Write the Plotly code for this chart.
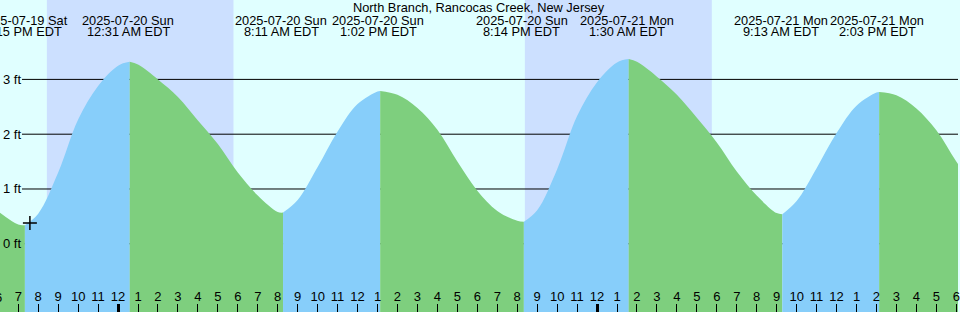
import plotly.graph_objects as go
import pandas as pd

TITLE = "North Branch, Rancocas Creek, New Jersey"

# Tide extremes (EDT) as printed on the chart
event_times = ["2025-07-19 19:15", "2025-07-20 00:31", "2025-07-20 08:11", "2025-07-20 13:02",
               "2025-07-20 20:14", "2025-07-21 01:30", "2025-07-21 09:13", "2025-07-21 14:03"]
# Turning points of the drawn curve (where the fill colour changes) and their heights in ft
turn_times = ["2025-07-19 19:20", "2025-07-20 00:35", "2025-07-20 08:16", "2025-07-20 13:08",
              "2025-07-20 20:20", "2025-07-21 01:35", "2025-07-21 09:17", "2025-07-21 14:08"]
turn_heights = [0.34, 3.32, 0.57, 2.79, 0.40, 3.37, 0.54, 2.77]

# Hourly tide heights (ft), 2025-07-19 18:00 .. 2025-07-21 19:00
hour_heights = [
    0.59, 0.35, 0.55, 1.30, 2.27, 2.88,                  # Sat 18..23
    3.25, 3.27, 3.00, 2.68, 2.25, 1.82, 1.30, 0.88,      # Sun 00..07
    0.58, 0.80, 1.40, 2.05, 2.55, 2.78, 2.72, 2.48,      # Sun 08..15
    2.08, 1.50, 0.97, 0.60, 0.42, 0.61, 1.36, 2.33,      # Sun 16..23
    2.95, 3.31, 3.32, 3.05, 2.72, 2.30, 1.85, 1.32,      # Mon 00..07
    0.88, 0.56, 0.78, 1.38, 2.02, 2.52, 2.76, 2.71,      # Mon 08..15
    2.47, 2.07, 1.50, 0.98,                              # Mon 16..19
]
hour_times = pd.date_range("2025-07-19 18:00", periods=len(hour_heights), freq="h")

sunset_times = ["2025-07-19 20:26", "2025-07-20 20:23"]
sunrise_times = ["2025-07-20 05:47", "2025-07-21 05:45"]
midnights = ["2025-07-20 00:00", "2025-07-21 00:00"]
first_hour_label = ("2025-07-19 18:00", "6")   # hour tick just left of the view
now_time = ["2025-07-19 19:35"]
now_height = [0.38]
y_ticks = [0, 1, 2, 3]
y_ticktext = ["0 ft", "1 ft", "2 ft", "3 ft"]

X_RANGE = ["2025-07-19 18:05:06", "2025-07-21 18:05:06"]
Y_RANGE = [-1.245, 4.449]
BASE = -2.0

RISE = "#87CEFA"
FALL = "#7ECF7E"
DAY = "#E0FFFF"
NIGHT = "#CCE0FF"
FONT = "Liberation Sans"
LABEL_SIZE = 12.8

# merge samples
pts = [(pd.Timestamp(t), h, False) for t, h in zip(hour_times, hour_heights)]
pts += [(pd.Timestamp(t), h, True) for t, h in zip(turn_times, turn_heights)]
pts.sort(key=lambda p: p[0])

segments = []
cur = []
for p in pts:
    cur.append(p)
    if p[2]:
        segments.append(cur)
        cur = [p]
if len(cur) > 1:
    segments.append(cur)

fig = go.Figure()
for seg in segments:
    xs = [p[0] for p in seg]
    ys = [p[1] for p in seg]
    color = RISE if ys[-1] > ys[0] else FALL
    fig.add_trace(go.Scatter(x=[xs[0], xs[-1]], y=[BASE, BASE], mode="lines",
                             line=dict(width=0), hoverinfo="skip", showlegend=False))
    fig.add_trace(go.Scatter(x=xs, y=ys, mode="lines", line=dict(width=0, shape="spline"),
                             fill="tonexty", fillcolor=color, hoverinfo="skip", showlegend=False))

fig.add_trace(go.Scatter(x=now_time, y=now_height, mode="markers",
                         marker=dict(symbol="cross-thin", size=10, line=dict(width=1.5, color="black")),
                         showlegend=False, hoverinfo="skip"))
fig.add_trace(go.Scatter(x=midnights, y=[BASE, BASE], xaxis="x2", mode="markers",
                         marker=dict(opacity=0), showlegend=False, hoverinfo="skip"))

shapes = []
for s, r in zip(sunset_times, sunrise_times):
    shapes.append(dict(type="rect", xref="x", yref="paper", x0=s, x1=r, y0=0, y1=1,
                       fillcolor=NIGHT, line=dict(width=0), layer="below"))
for v in y_ticks:
    shapes.append(dict(type="line", xref="paper", yref="y", x0=22 / 960, x1=1, y0=v, y1=v,
                       line=dict(color="black", width=1), layer="below"))

annotations = []
for t in event_times:
    ts = pd.Timestamp(t)
    l1 = ts.strftime("%Y-%m-%d %a")
    l2 = ts.strftime("%I:%M %p").lstrip("0") + " EDT"
    annotations.append(dict(x=ts, y=1 - 20 / 312, xref="x", yref="paper", text=l1,
                            showarrow=False, xanchor="center", yanchor="middle",
                            font=dict(family=FONT, size=LABEL_SIZE, color="black")))
    annotations.append(dict(x=ts, y=1 - 32 / 312, xref="x", yref="paper", text=l2,
                            showarrow=False, xanchor="center", yanchor="middle",
                            font=dict(family=FONT, size=LABEL_SIZE, color="black")))
annotations.append(dict(x=0.5, y=1 - 7.8 / 312, xref="paper", yref="paper", text=TITLE,
                        showarrow=False, xanchor="center", yanchor="middle",
                        font=dict(family=FONT, size=LABEL_SIZE, color="black")))

# y-axis labels drawn inside the plot at the left edge
for v, txt in zip(y_ticks, y_ticktext):
    annotations.append(dict(x=1 / 960, y=v, xref="paper", yref="y", text=txt,
                            showarrow=False, xanchor="left", yanchor="middle",
                            font=dict(family=FONT, size=13, color="black")))

# hour label of the tick just outside the left edge (partly visible)
x0, x1 = pd.Timestamp(X_RANGE[0]), pd.Timestamp(X_RANGE[1])
frac = (pd.Timestamp(first_hour_label[0]) - x0) / (x1 - x0)
annotations.append(dict(x=frac, y=15 / 312, xref="paper", yref="paper", text=first_hour_label[1],
                        showarrow=False, xanchor="center", yanchor="middle",
                        font=dict(family=FONT, size=13, color="black")))

fig.update_layout(
    width=960, height=312, margin=dict(l=0, r=0, t=0, b=0),
    plot_bgcolor=DAY, paper_bgcolor=DAY,
    font=dict(family=FONT, size=13, color="black"),
    shapes=shapes, annotations=annotations, showlegend=False,
    xaxis=dict(type="date", range=X_RANGE, tickformat="%-I", dtick=3600000,
               tick0="2025-07-20 00:00", ticks="inside", ticklen=8, tickwidth=1,
               tickcolor="black", ticklabelposition="inside", ticklabeloverflow="allow",
               showgrid=False, zeroline=False, showline=False,
               tickfont=dict(family=FONT, size=13, color="black")),
    xaxis2=dict(type="date", range=X_RANGE, overlaying="x", anchor="y", side="bottom",
                tickvals=midnights, ticks="inside", ticklen=8, tickwidth=3, tickcolor="black",
                showticklabels=False, showgrid=False, zeroline=False, showline=False),
    yaxis=dict(range=Y_RANGE, tickvals=y_ticks, showticklabels=False, ticks="",
               showgrid=False, zeroline=False, showline=False),
)

fig.write_html("out.html")
